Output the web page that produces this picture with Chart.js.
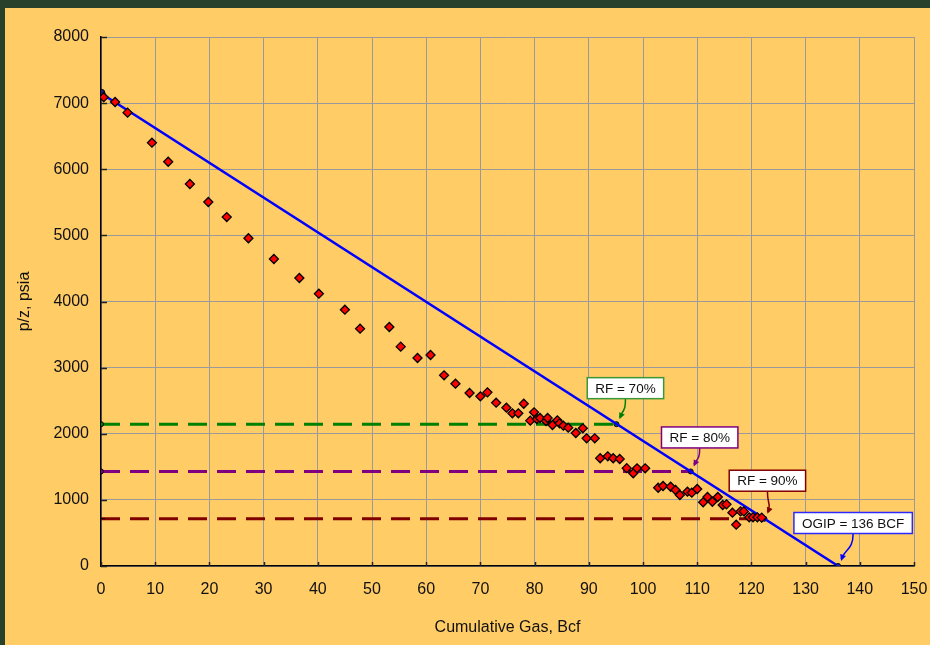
<!DOCTYPE html>
<html>
<head>
<meta charset="utf-8">
<script src="https://cdn.jsdelivr.net/npm/chart.js@4"></script>
<style>
  html, body { margin: 0; padding: 0; background: #27412a; width: 930px; height: 645px; overflow: hidden; }
  #wrap { position: absolute; left: 5px; top: 8px; width: 925px; height: 637px; background: #ffcc66; }
</style>
</head>
<body>
<div id="wrap"><canvas id="c" width="925" height="637"></canvas></div>
<script>
// measured p/z points
const gasBcf = [0.5, 2.6, 4.9, 9.4, 12.4, 16.4, 19.8, 23.2, 27.2, 31.9, 36.6, 40.2, 45.0, 47.8,
  53.2, 55.3, 58.4, 60.8, 63.3, 65.4, 68.0, 70.0, 71.3, 72.9, 74.8, 75.9, 77.0, 78.0, 79.2,
  79.9, 80.4, 81.0, 82.1, 82.4, 83.3, 84.2, 84.6, 85.3, 86.2, 87.6, 88.9, 89.6, 91.1, 92.1,
  93.5, 94.5, 95.7, 97.0, 98.2, 98.9, 100.4, 102.8, 103.7, 105.1, 106.0, 106.8, 108.2, 109.0,
  110.0, 111.1, 111.9, 112.8, 113.8, 114.7, 115.4, 116.5, 117.2, 118.0, 118.6, 119.6, 120.3,
  121.1, 121.9]
const pzPsia = [7090, 7017, 6856, 6402, 6114, 5777, 5505, 5277, 4956, 4643, 4355, 4118, 3876, 3589,
  3614, 3317, 3146, 3191, 2884, 2757, 2616, 2566, 2626, 2470, 2394, 2309, 2309, 2454, 2198,
  2324, 2223, 2238, 2193, 2238, 2132, 2203, 2158, 2122, 2092, 2011, 2082, 1931, 1931, 1629,
  1659, 1629, 1618, 1480, 1402, 1477, 1477, 1184, 1210, 1199, 1149, 1074, 1124, 1109,
  1164, 963, 1043, 972, 1043, 922, 932, 806, 625, 826, 826, 736, 736,
  736, 731]

// straight line fit
const fitX = [0, 136]
const fitY = [7150, 0]

// recovery factor levels
const rfLabels = ['RF = 70%', 'RF = 80%', 'RF = 90%']
const rfPz = [2145, 1430, 715]
const rfGas = [95.1, 108.8, 122.4]
const rfColors = ['#008000', '#800080', '#800000']

const ogipLabel = 'OGIP = 136 BCF'

const xTicks = [0, 10, 20, 30, 40, 50, 60, 70, 80, 90, 100, 110, 120, 130, 140, 150]
const yTicks = [0, 1000, 2000, 3000, 4000, 5000, 6000, 7000, 8000]

const FONT = "'Liberation Sans', Arial, sans-serif"

const pts = gasBcf.map((x, i) => ({x: x, y: pzPsia[i]}))

const rfSets = rfPz.map((y, i) => ({
  data: [{x: 0, y: y}, {x: rfGas[i], y: y}],
  showLine: true,
  borderColor: rfColors[i],
  borderWidth: 3,
  borderDash: [19, 10],
  pointRadius: i === 2 ? [4, 2.5] : 2.5,
  pointStyle: i === 2 ? ['line', 'circle'] : 'circle',
  pointBackgroundColor: rfColors[i],
  pointBorderColor: '#000',
  pointBorderWidth: 1,
  order: 2
}))

// callouts: text, target point, box offset (px), border colour
const callouts = [
  {text: rfLabels[0], x: rfGas[0], y: rfPz[0], dx: 9, dy: -36, color: '#3a983a', arrow: '#008000'},
  {text: rfLabels[1], x: rfGas[1], y: rfPz[1], dx: 9, dy: -34, color: '#800080', arrow: '#800080'},
  {text: rfLabels[2], x: rfGas[2], y: rfPz[2], dx: 3, dy: -38, color: '#800000', arrow: '#800000'},
  {text: ogipLabel, x: fitX[1], y: fitY[1], dx: 15, dy: -43, color: '#2a2aff', arrow: '#0000ff'}
]

// small inside tick marks on the two axes
const innerTicks = {
  id: 'innerTicks',
  afterDraw(chart) {
    const ctx = chart.ctx
    const xs = chart.scales.x, ys = chart.scales.y
    const a = chart.chartArea
    ctx.save()
    ctx.strokeStyle = '#222'
    ctx.lineWidth = 1.5
    ctx.beginPath()
    ys.ticks.forEach(t => {
      const y = Math.round(ys.getPixelForValue(t.value)) + 0.5
      ctx.moveTo(a.left, y); ctx.lineTo(a.left + 6, y)
    })
    xs.ticks.forEach(t => {
      const x = Math.round(xs.getPixelForValue(t.value)) + 0.5
      ctx.moveTo(x, a.bottom); ctx.lineTo(x, a.bottom - 4)
    })
    ctx.stroke()
    ctx.restore()
  }
}

const calloutPlugin = {
  id: 'callouts',
  afterDatasetsDraw(chart) {
    const ctx = chart.ctx
    const xs = chart.scales.x, ys = chart.scales.y
    ctx.save()
    ctx.font = '13.5px ' + FONT
    callouts.forEach(c => {
      const px = xs.getPixelForValue(c.x)
      const py = ys.getPixelForValue(c.y)
      const w = ctx.measureText(c.text).width + 16
      const h = 21
      const cx = px + c.dx, cy = py + c.dy
      // curved arrow
      const sx = cx, sy = cy + h / 2
      const tx = px + 3, ty = py - 5
      const c2x = tx + 4, c2y = ty - (ty - sy) * 0.45
      ctx.strokeStyle = c.arrow
      ctx.lineWidth = 1.5
      ctx.beginPath()
      ctx.moveTo(sx, sy)
      ctx.bezierCurveTo(sx, sy + (ty - sy) * 0.6, c2x, c2y, tx, ty - 2)
      ctx.stroke()
      const ang = Math.atan2(ty - c2y, tx - c2x)
      ctx.fillStyle = c.arrow
      ctx.beginPath()
      ctx.moveTo(tx, ty)
      ctx.lineTo(tx - 7 * Math.cos(ang - 0.45), ty - 7 * Math.sin(ang - 0.45))
      ctx.lineTo(tx - 7 * Math.cos(ang + 0.45), ty - 7 * Math.sin(ang + 0.45))
      ctx.closePath()
      ctx.fill()
      // box
      ctx.fillStyle = '#fff'
      ctx.fillRect(cx - w / 2, cy - h / 2, w, h)
      ctx.strokeStyle = c.color
      ctx.lineWidth = 1.5
      ctx.strokeRect(cx - w / 2, cy - h / 2, w, h)
      ctx.fillStyle = '#111'
      ctx.textAlign = 'center'
      ctx.textBaseline = 'middle'
      ctx.fillText(c.text, cx, cy + 1)
    })
    ctx.restore()
  }
}

new Chart(document.getElementById('c'), {
  type: 'scatter',
  data: {
    datasets: [
      {
        data: pts,
        pointStyle: 'rectRot',
        pointRadius: 4.5,
        pointBackgroundColor: '#ff0000',
        pointBorderColor: '#000',
        pointBorderWidth: 1.3,
        order: 0
      },
      {
        data: fitX.map((x, i) => ({x: x, y: fitY[i]})),
        showLine: true,
        borderColor: '#0000ff',
        borderWidth: 2.5,
        pointRadius: [4, 2.5],
        pointBackgroundColor: ['#1a1a90', '#2020c0'],
        pointBorderColor: '#000',
        pointBorderWidth: 1,
        order: 1
      },
      ...rfSets
    ]
  },
  options: {
    responsive: false,
    devicePixelRatio: 1,
    animation: false,
    events: [],
    layout: {padding: {top: 29, right: 16, left: 0, bottom: 0}},
    plugins: {legend: {display: false}, tooltip: {enabled: false}},
    scales: {
      x: {
        type: 'linear',
        min: 0, max: 150,
        afterBuildTicks: s => { s.ticks = xTicks.map(v => ({value: v})) },
        afterFit: s => { s.height = 79; s.paddingLeft = 0; s.paddingRight = 0 },
        ticks: {font: {size: 16, family: FONT}, color: '#111', padding: 14, callback: v => String(v)},
        grid: {color: '#9a9a9a', lineWidth: 1, drawTicks: false},
        border: {color: '#000', width: 1.5},
        title: {display: true, text: 'Cumulative Gas, Bcf', font: {size: 16, family: FONT}, color: '#111', padding: {top: 0, bottom: 8}}
      },
      y: {
        type: 'linear',
        min: 0, max: 8000,
        afterBuildTicks: s => { s.ticks = yTicks.map(v => ({value: v})) },
        afterFit: s => { s.width = 96; s.paddingTop = 0; s.paddingBottom = 0 },
        ticks: {font: {size: 16, family: FONT}, color: '#111', padding: 12, callback: v => String(v)},
        grid: {color: '#9a9a9a', lineWidth: 1, drawTicks: false},
        border: {color: '#000', width: 1.5},
        title: {display: true, text: 'p/z, psia', font: {size: 16, family: FONT}, color: '#111', padding: {top: 10, bottom: 0}}
      }
    }
  },
  plugins: [innerTicks, calloutPlugin]
})
</script>
</body>
</html>
